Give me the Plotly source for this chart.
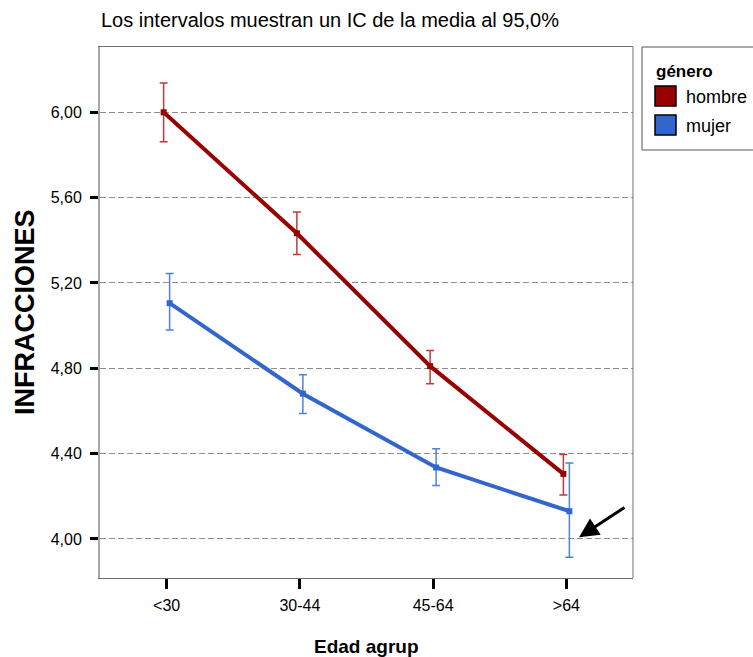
import plotly.graph_objects as go

# Age groups (x axis) and mean INFRACCIONES with 95% CI per gender
categorias = ["<30", "30-44", "45-64", ">64"]

hombre_media = [6.000, 5.433, 4.810, 4.305]
hombre_inf = [5.862, 5.333, 4.727, 4.206]
hombre_sup = [6.137, 5.532, 4.883, 4.396]

mujer_media = [5.105, 4.681, 4.335, 4.130]
mujer_inf = [4.979, 4.588, 4.250, 3.914]
mujer_sup = [5.244, 4.770, 4.423, 4.356]

y_ticks = [4.00, 4.40, 4.80, 5.20, 5.60, 6.00]

ROJO = "#990000"
ROJO_ERR = "#bf3a3a"
AZUL = "#3366cc"
AZUL_ERR = "#4f80e0"
FONT = "Liberation Sans, Arial, sans-serif"

# small horizontal dodge so the two series' CI bars do not overlap
DODGE = 0.0225
x_idx = list(range(len(categorias)))


def serie(nombre, medias, inf, sup, color, color_err, desplazamiento):
    return go.Scatter(
        x=[i + desplazamiento for i in x_idx],
        y=medias,
        name=nombre,
        mode="lines+markers",
        line=dict(color=color, width=4),
        marker=dict(symbol="square", size=6, color=color),
        error_y=dict(
            type="data",
            symmetric=False,
            array=[s - m for s, m in zip(sup, medias)],
            arrayminus=[m - i for m, i in zip(medias, inf)],
            color=color_err,
            thickness=1.5,
            width=4,
        ),
        showlegend=False,
        hoverinfo="skip",
    )


fig = go.Figure()
fig.add_trace(serie("hombre", hombre_media, hombre_inf, hombre_sup, ROJO, ROJO_ERR, -DODGE))
fig.add_trace(serie("mujer", mujer_media, mujer_inf, mujer_sup, AZUL, AZUL_ERR, DODGE))

# plot area in pixels: x 100..633, y 47..578
L, R, T, B = 100, 633, 47, 578
W, H = 753, 657


def px(xp):
    return (xp - L) / (R - L)


def py(yp):
    return (B - yp) / (B - T)


shapes = [
    # right edge of the frame
    dict(type="line", xref="paper", yref="paper", x0=1, x1=1, y0=0, y1=1,
         line=dict(color="#6e6e6e", width=1)),
    # legend box
    dict(type="rect", xref="paper", yref="paper", x0=px(642), x1=px(775),
         y0=py(150), y1=py(47), line=dict(color="#555555", width=1),
         fillcolor="white", layer="above"),
    dict(type="rect", xref="paper", yref="paper", x0=px(655), x1=px(676),
         y0=py(106), y1=py(86), line=dict(color="black", width=1.5),
         fillcolor=ROJO, layer="above"),
    dict(type="rect", xref="paper", yref="paper", x0=px(655), x1=px(676),
         y0=py(135), y1=py(115), line=dict(color="black", width=1.5),
         fillcolor=AZUL, layer="above"),
]

annotations = [
    dict(text="Los intervalos muestran un IC de la media al 95,0%",
         xref="paper", yref="paper", x=px(99), y=py(20), xanchor="left",
         yanchor="middle", showarrow=False,
         font=dict(family=FONT, size=20, color="black")),
    dict(text="<b>INFRACCIONES</b>", xref="paper", yref="paper",
         x=px(25), y=py(312), xanchor="center", yanchor="middle",
         textangle=-90, showarrow=False,
         font=dict(family=FONT, size=27, color="black")),
    dict(text="<b>Edad agrup</b>", xref="paper", yref="paper",
         x=0.5, y=py(646), xanchor="center", yanchor="middle",
         showarrow=False, font=dict(family=FONT, size=19, color="black")),
    dict(text="<b>género</b>", xref="paper", yref="paper",
         x=px(654), y=py(71), xanchor="left", yanchor="middle",
         showarrow=False, font=dict(family=FONT, size=17, color="black")),
    dict(text="hombre", xref="paper", yref="paper",
         x=px(684), y=py(97), xanchor="left", yanchor="middle",
         showarrow=False, font=dict(family=FONT, size=18, color="black")),
    dict(text="mujer", xref="paper", yref="paper",
         x=px(684), y=py(126), xanchor="left", yanchor="middle",
         showarrow=False, font=dict(family=FONT, size=18, color="black")),
    # arrow pointing at the lower end of the >64 interval for women
    dict(x=3.095, y=4.008, ax=3.447, ay=4.152, xref="x", yref="y",
         axref="x", ayref="y", text="", showarrow=True, arrowhead=2,
         arrowsize=1.3, arrowwidth=3, arrowcolor="black", standoff=0),
]

fig.update_layout(
    width=W, height=H, autosize=False,
    margin=dict(l=L, r=W - R, t=T, b=H - B, pad=0),
    paper_bgcolor="white", plot_bgcolor="white",
    separators=",.",
    font=dict(family=FONT, size=16, color="black"),
    shapes=shapes,
    annotations=annotations,
    xaxis=dict(
        range=[-0.5, 3.5],
        tickmode="array", tickvals=x_idx, ticktext=categorias,
        showgrid=False, zeroline=False,
        showline=True, linecolor="#6e6e6e", linewidth=1, mirror=True,
        ticks="outside", ticklen=10, tickwidth=3, tickcolor="black",
        tickfont=dict(family=FONT, size=16, color="black"),
        ticklabelstandoff=3,
    ),
    yaxis=dict(
        range=[3.817, 6.306],
        tickmode="array", tickvals=y_ticks,
        tickformat=".2f",
        showgrid=True, gridcolor="#8c8c8c", gridwidth=1, griddash="6px,3px",
        zeroline=False,
        showline=True, linecolor="#a8a8a8", linewidth=2,
        ticks="outside", ticklen=8, tickwidth=3, tickcolor="black",
        tickfont=dict(family=FONT, size=16, color="black"),
        ticklabelstandoff=5,
    ),
)

fig.write_html("out.html")
